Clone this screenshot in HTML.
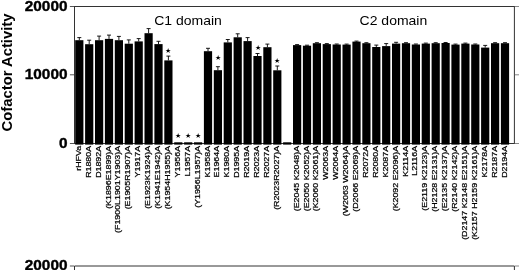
<!DOCTYPE html>
<html><head><meta charset="utf-8"><title>Cofactor Activity</title>
<style>html,body{margin:0;padding:0;background:#fff;overflow:hidden}svg{display:block}text{font-family:"Liberation Sans",Arial,Helvetica,sans-serif;fill:#000}.b{font-weight:bold}.t{stroke:#000;stroke-width:.4px}.l{font-size:7.9px;stroke:#000;stroke-width:.24px}</style></head><body>
<svg width="520" height="270" viewBox="0 0 520 270">
<rect width="520" height="270" fill="#fff"/>
<g stroke="#333" stroke-width="1" fill="none">
<path d="M74.5 6.5H514.4"/>
<path d="M74.5 6.0V144.0"/>
<path d="M514.4 6.0V144.0"/>
<path d="M74.5 143.5H514.4"/>
<path d="M74.5 266H514.4"/>
<path d="M74.5 266V270"/>
<path d="M514.4 266V270"/>
</g>
<g stroke="#555" stroke-width="1" fill="none">
<path d="M69.9 6.5H74.0"/>
<path d="M69.9 74.8H74.0"/>
<path d="M69.9 143.5H74.0"/>
<path d="M69.9 266H74.0"/>
</g>
<g stroke="#888" stroke-width="1" fill="none">
<path d="M514.9 6.5H519.0"/>
<path d="M514.9 74.8H519.0"/>
<path d="M514.9 143.5H519.0"/>
<path d="M514.9 266H519.0"/>
</g>
<g fill="#000">
<rect x="75.20" y="40.2" width="8.2" height="104.40"/>
<rect x="85.10" y="44.2" width="8.2" height="100.40"/>
<rect x="95.00" y="40.2" width="8.2" height="104.40"/>
<rect x="104.90" y="38.9" width="8.2" height="105.70"/>
<rect x="114.80" y="40.2" width="8.2" height="104.40"/>
<rect x="124.70" y="43.7" width="8.2" height="100.90"/>
<rect x="134.60" y="41.4" width="8.2" height="103.20"/>
<rect x="144.50" y="33.2" width="8.2" height="111.40"/>
<rect x="154.40" y="44.1" width="8.2" height="100.50"/>
<rect x="164.30" y="60.4" width="8.2" height="84.20"/>
<rect x="174.20" y="142.3" width="8.2" height="2.30"/>
<rect x="184.10" y="142.3" width="8.2" height="2.30"/>
<rect x="194.00" y="142.3" width="8.2" height="2.30"/>
<rect x="203.90" y="51.2" width="8.2" height="93.40"/>
<rect x="213.80" y="70.2" width="8.2" height="74.40"/>
<rect x="223.70" y="42.4" width="8.2" height="102.20"/>
<rect x="233.60" y="37.3" width="8.2" height="107.30"/>
<rect x="243.50" y="41.1" width="8.2" height="103.50"/>
<rect x="253.40" y="56.0" width="8.2" height="88.60"/>
<rect x="263.30" y="47.2" width="8.2" height="97.40"/>
<rect x="273.20" y="70.3" width="8.2" height="74.30"/>
<rect x="283.10" y="142.3" width="8.2" height="2.30"/>
<rect x="293.00" y="45.1" width="8.2" height="99.50"/>
<rect x="302.90" y="45.7" width="8.2" height="98.90"/>
<rect x="312.80" y="43.2" width="8.2" height="101.40"/>
<rect x="322.70" y="44.1" width="8.2" height="100.50"/>
<rect x="332.60" y="44.5" width="8.2" height="100.10"/>
<rect x="342.50" y="44.6" width="8.2" height="100.00"/>
<rect x="352.40" y="41.6" width="8.2" height="103.00"/>
<rect x="362.30" y="43.2" width="8.2" height="101.40"/>
<rect x="372.20" y="47.0" width="8.2" height="97.60"/>
<rect x="382.10" y="46.1" width="8.2" height="98.50"/>
<rect x="392.00" y="43.6" width="8.2" height="101.00"/>
<rect x="401.90" y="43.2" width="8.2" height="101.40"/>
<rect x="411.80" y="44.5" width="8.2" height="100.10"/>
<rect x="421.70" y="43.6" width="8.2" height="101.00"/>
<rect x="431.60" y="43.2" width="8.2" height="101.40"/>
<rect x="441.50" y="43.0" width="8.2" height="101.60"/>
<rect x="451.40" y="44.6" width="8.2" height="100.00"/>
<rect x="461.30" y="43.6" width="8.2" height="101.00"/>
<rect x="471.20" y="44.5" width="8.2" height="100.10"/>
<rect x="481.10" y="47.6" width="8.2" height="97.00"/>
<rect x="491.00" y="43.2" width="8.2" height="101.40"/>
<rect x="500.90" y="43.2" width="8.2" height="101.40"/>
</g>
<g stroke="#000" stroke-width="0.9" fill="none">
<path d="M79.30 40.2V37.6M77.30 37.6H81.30"/>
<path d="M89.20 44.2V40.2M87.20 40.2H91.20"/>
<path d="M99.10 40.2V36.1M97.10 36.1H101.10"/>
<path d="M109.00 38.9V35.1M107.00 35.1H111.00"/>
<path d="M118.90 40.2V36.4M116.90 36.4H120.90"/>
<path d="M128.80 43.7V39.9M126.80 39.9H130.80"/>
<path d="M138.70 41.4V38.6M136.70 38.6H140.70"/>
<path d="M148.60 33.2V28.6M146.60 28.6H150.60"/>
<path d="M158.50 44.1V41.3M156.50 41.3H160.50"/>
<path d="M168.40 60.4V56.1M166.40 56.1H170.40"/>
<path d="M208.00 51.2V48.3M206.00 48.3H210.00"/>
<path d="M217.90 70.2V66.7M215.90 66.7H219.90"/>
<path d="M227.80 42.4V39.5M225.80 39.5H229.80"/>
<path d="M237.70 37.3V33.8M235.70 33.8H239.70"/>
<path d="M247.60 41.1V37.6M245.60 37.6H249.60"/>
<path d="M257.50 56.0V53.5M255.50 53.5H259.50"/>
<path d="M267.40 47.2V44.1M265.40 44.1H269.40"/>
<path d="M277.30 70.3V66.0M275.30 66.0H279.30"/>
<path d="M297.10 45.1V44.6M295.10 44.6H299.10"/>
<path d="M307.00 45.7V45.2M305.00 45.2H309.00"/>
<path d="M316.90 43.2V42.7M314.90 42.7H318.90"/>
<path d="M326.80 44.1V43.6M324.80 43.6H328.80"/>
<path d="M336.70 44.5V44.0M334.70 44.0H338.70"/>
<path d="M346.60 44.6V44.1M344.60 44.1H348.60"/>
<path d="M356.50 41.6V41.1M354.50 41.1H358.50"/>
<path d="M366.40 43.2V42.7M364.40 42.7H368.40"/>
<path d="M376.30 47.0V45.1M374.30 45.1H378.30"/>
<path d="M386.20 46.1V43.6M384.20 43.6H388.20"/>
<path d="M396.10 43.6V42.3M394.10 42.3H398.10"/>
<path d="M406.00 43.2V42.7M404.00 42.7H408.00"/>
<path d="M415.90 44.5V44.0M413.90 44.0H417.90"/>
<path d="M425.80 43.6V43.1M423.80 43.1H427.80"/>
<path d="M435.70 43.2V42.7M433.70 42.7H437.70"/>
<path d="M445.60 43.0V42.5M443.60 42.5H447.60"/>
<path d="M455.50 44.6V44.1M453.50 44.1H457.50"/>
<path d="M465.40 43.6V43.1M463.40 43.1H467.40"/>
<path d="M475.30 44.5V44.0M473.30 44.0H477.30"/>
<path d="M485.20 47.6V45.4M483.20 45.4H487.20"/>
<path d="M495.10 43.2V42.7M493.10 42.7H497.10"/>
<path d="M505.00 43.2V42.7M503.00 42.7H507.00"/>
</g>
<g font-size="7" text-anchor="middle">
<text x="168.40" y="53.30">★</text>
<text x="178.30" y="138.40">★</text>
<text x="188.20" y="138.40">★</text>
<text x="198.10" y="138.40">★</text>
<text x="217.90" y="60.00">★</text>
<text x="257.50" y="49.80">★</text>
<text x="277.30" y="63.10">★</text>
</g>
<g class="l" text-anchor="end">
<text transform="translate(80.80 145.9) rotate(-90) scale(1.123 1)">rHFVa</text>
<text transform="translate(90.70 145.9) rotate(-90) scale(1.123 1)">R1880A</text>
<text transform="translate(100.60 145.9) rotate(-90) scale(1.123 1)">D1892A</text>
<text transform="translate(110.50 145.9) rotate(-90) scale(1.123 1)">(K1896E1899)A</text>
<text transform="translate(120.40 145.9) rotate(-90) scale(1.123 1)">(F1900L1901Y1903)A</text>
<text transform="translate(130.30 145.9) rotate(-90) scale(1.123 1)">(E1905R1907)A</text>
<text transform="translate(140.20 145.9) rotate(-90) scale(1.123 1)">Y1917A</text>
<text transform="translate(150.10 145.9) rotate(-90) scale(1.123 1)">(E1923K1924)A</text>
<text transform="translate(160.00 145.9) rotate(-90) scale(1.123 1)">(K1941E1942)A</text>
<text transform="translate(169.90 145.9) rotate(-90) scale(1.123 1)">(K1954H1955)A</text>
<text transform="translate(179.80 145.9) rotate(-90) scale(1.123 1)">Y1956A</text>
<text transform="translate(189.70 145.9) rotate(-90) scale(1.123 1)">L1957A</text>
<text transform="translate(199.60 145.9) rotate(-90) scale(1.123 1)">(Y1956L1957)A</text>
<text transform="translate(209.50 145.9) rotate(-90) scale(1.123 1)">K1958A</text>
<text transform="translate(219.40 145.9) rotate(-90) scale(1.123 1)">E1964A</text>
<text transform="translate(229.30 145.9) rotate(-90) scale(1.123 1)">K1980A</text>
<text transform="translate(239.20 145.9) rotate(-90) scale(1.123 1)">D1995A</text>
<text transform="translate(249.10 145.9) rotate(-90) scale(1.123 1)">R2019A</text>
<text transform="translate(259.00 145.9) rotate(-90) scale(1.123 1)">R2023A</text>
<text transform="translate(268.90 145.9) rotate(-90) scale(1.123 1)">R2027A</text>
<text transform="translate(278.80 145.9) rotate(-90) scale(1.123 1)">(R2023R2027)A</text>
<text transform="translate(298.60 145.9) rotate(-90) scale(1.123 1)">(E2045 K2048)A</text>
<text transform="translate(308.50 145.9) rotate(-90) scale(1.123 1)">(E2050 K2052)A</text>
<text transform="translate(318.40 145.9) rotate(-90) scale(1.123 1)">(K2060 K2061)A</text>
<text transform="translate(328.30 145.9) rotate(-90) scale(1.123 1)">W2063A</text>
<text transform="translate(338.20 145.9) rotate(-90) scale(1.123 1)">W2064A</text>
<text transform="translate(348.10 145.9) rotate(-90) scale(1.123 1)">(W2063 W2064)A</text>
<text transform="translate(358.00 145.9) rotate(-90) scale(1.123 1)">(D2066 E2069)A</text>
<text transform="translate(367.90 145.9) rotate(-90) scale(1.123 1)">R2072A</text>
<text transform="translate(377.80 145.9) rotate(-90) scale(1.123 1)">R2080A</text>
<text transform="translate(387.70 145.9) rotate(-90) scale(1.123 1)">K2087A</text>
<text transform="translate(397.60 145.9) rotate(-90) scale(1.123 1)">(K2092 E2096)A</text>
<text transform="translate(407.50 145.9) rotate(-90) scale(1.123 1)">K2114A</text>
<text transform="translate(417.40 145.9) rotate(-90) scale(1.123 1)">L2116A</text>
<text transform="translate(427.30 145.9) rotate(-90) scale(1.123 1)">(E2119 K2123)A</text>
<text transform="translate(437.20 145.9) rotate(-90) scale(1.123 1)">(H2128 E2131)A</text>
<text transform="translate(447.10 145.9) rotate(-90) scale(1.123 1)">(E2135 K2137)A</text>
<text transform="translate(457.00 145.9) rotate(-90) scale(1.123 1)">(R2140 K2142)A</text>
<text transform="translate(466.90 145.9) rotate(-90) scale(1.123 1)">(D2147 K2148 E2151)A</text>
<text transform="translate(476.80 145.9) rotate(-90) scale(1.123 1)">(K2157 H2159 K2161)A</text>
<text transform="translate(486.70 145.9) rotate(-90) scale(1.123 1)">K2178A</text>
<text transform="translate(496.60 145.9) rotate(-90) scale(1.123 1)">R2187A</text>
<text transform="translate(506.50 145.9) rotate(-90) scale(1.123 1)">D2194A</text>
</g>
<text class="b t" font-size="15.2" text-anchor="end" transform="translate(67.5 11) scale(1.012 1.0)">20000</text>
<text class="b t" font-size="15.2" text-anchor="end" transform="translate(67.5 79) scale(1.012 1.0)">10000</text>
<text class="b t" font-size="15.2" text-anchor="end" transform="translate(67.5 148) scale(1.012 1.0)">0</text>
<text class="b t" font-size="15.2" text-anchor="end" transform="translate(67.5 270) scale(1.012 1.0)">20000</text>
<text font-size="13.3" transform="translate(154.2 25.3) scale(1.052 1)">C1 domain</text>
<text font-size="13.3" transform="translate(359.6 25.3) scale(1.052 1)">C2 domain</text>
<text class="b" font-size="14.8" transform="translate(11.6 131.4) rotate(-90) scale(1.0 1)">Cofactor Activity</text>
</svg></body></html>
